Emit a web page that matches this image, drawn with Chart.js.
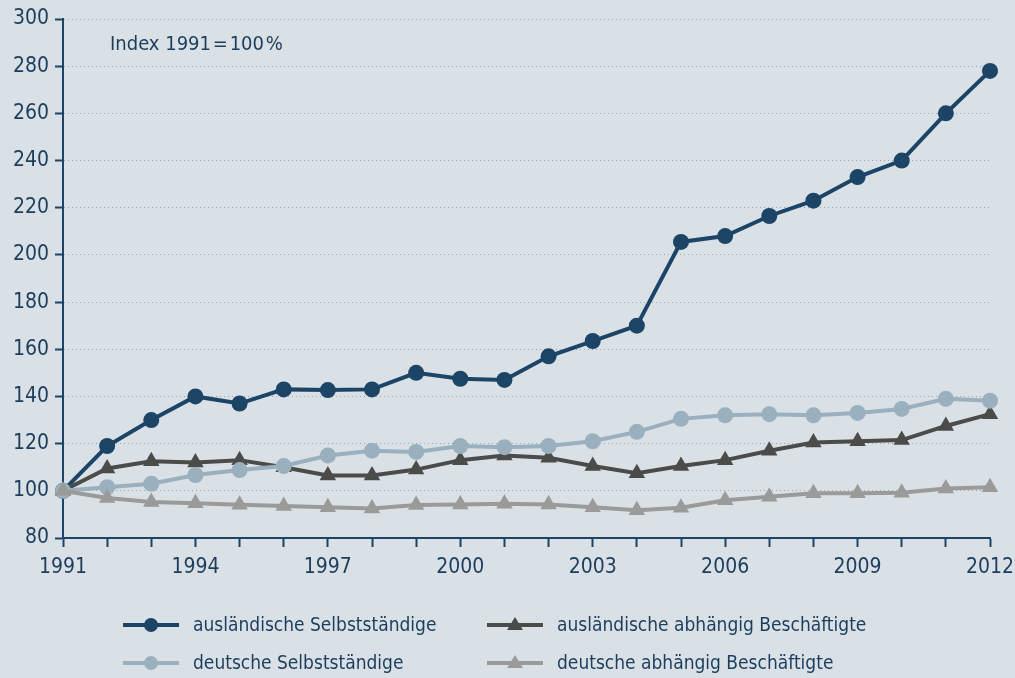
<!DOCTYPE html>
<html><head><meta charset="utf-8">
<script src="https://cdn.jsdelivr.net/npm/chart.js@4"></script>
<style>
html,body{margin:0;padding:0;background:#d9e0e6;}
#wrap{position:relative;width:1015px;height:678px;overflow:hidden;}
canvas{position:absolute;left:0;top:0;}
.t{position:absolute;font-family:'DejaVu Sans Condensed','Liberation Sans Narrow',sans-serif;color:#1c3d5c;white-space:nowrap;}
.lg{position:absolute;height:20px;}
</style></head><body>
<div id="wrap">
<canvas id="c" width="1015" height="678"></canvas>
<div class="t" style="left:110px;top:31px;font-size:20px;">Index 1991&#8202;=&#8202;100&#8202;%</div>
<div id="legend"></div>
</div>
<script>
const years = [1991,1992,1993,1994,1995,1996,1997,1998,1999,2000,2001,2002,2003,2004,2005,2006,2007,2008,2009,2010,2011,2012];
const auslSelbst = [100,119,130,140,137,143,142.7,143,150,147.5,147,157,163.5,170,205.5,208,216.5,223,233,240,260,278];
const auslAbh = [100,109.5,112.5,112,113,110,106.5,106.5,109,113,115,114,110.5,107.5,110.5,113,117,120.5,121,121.5,127.5,132.5];
const dtSelbst = [100,101.5,103,106.7,108.8,110.5,115,117,116.5,119,118.5,119,121,125,130.5,132,132.5,132,133,134.7,139,138.2];
const dtAbh = [100,97,95.3,94.7,94.1,93.6,93,92.5,94,94.2,94.5,94.2,93,91.8,92.8,96,97.5,99,99,99.2,101,101.5];
const yTicks = [80,100,120,140,160,180,200,220,240,260,280,300];
const seriesNames = ['ausländische Selbstständige','ausländische abhängig Beschäftigte','deutsche Selbstständige','deutsche abhängig Beschäftigte'];

const NAVY='#1b4466', DGREY='#4b4b49', LBLUE='#9ab0bf', GREY='#9a9b99', TXT='#1c3d5c';
const FONT="'DejaVu Sans Condensed','Liberation Sans Narrow',sans-serif";
const styles=[
 {c:NAVY,p:'circle',r:8,order:3},
 {c:DGREY,p:'triangle',r:9.5,order:2},
 {c:LBLUE,p:'circle',r:8,order:1},
 {c:GREY,p:'triangle',r:9.5,order:0}
];
const values=[auslSelbst,auslAbh,dtSelbst,dtAbh];

const datasets=values.map((v,i)=>({
  label:seriesNames[i], data:v,
  borderColor:styles[i].c, backgroundColor:styles[i].c,
  pointBackgroundColor:styles[i].c, pointBorderColor:styles[i].c,
  pointStyle:styles[i].p, pointRadius:styles[i].r, pointBorderWidth:0,
  borderWidth:4, tension:0, order:styles[i].order
}));

new Chart(document.getElementById('c'),{
  type:'line',
  data:{labels:years.map(String),datasets},
  options:{
    responsive:false, animation:false, devicePixelRatio:1,
    layout:{padding:{left:0,top:19,right:0,bottom:100}},
    plugins:{legend:{display:false},tooltip:{enabled:false}},
    scales:{
      x:{
        offset:false,
        grid:{drawOnChartArea:false,drawTicks:true,tickLength:9,tickColor:NAVY,tickWidth:2},
        border:{display:true,color:NAVY,width:2},
        ticks:{autoSkip:false,maxRotation:0,color:TXT,font:{family:FONT,size:21},padding:8,
          callback:function(v,i){const y=years[i];return (y-1991)%3===0?String(y):'';}},
        afterFit:function(s){s.height=40;s.paddingRight=25;}
      },
      y:{
        min:80,max:300,
        afterBuildTicks:function(s){s.ticks=yTicks.map(v=>({value:v}));},
        grid:{color:'#9aa3aa',lineWidth:1,drawTicks:true,tickLength:8,tickColor:NAVY,tickWidth:2},
        border:{display:true,color:NAVY,width:2,dash:[1,3]},
        ticks:{color:TXT,font:{family:FONT,size:21},padding:6},
        afterFit:function(s){s.width=63;}
      }
    }
  }
});

// HTML legend
const lg=document.getElementById('legend');
const pos=[[123,625],[487,625],[123,663],[487,663]];
values.forEach((v,i)=>{
  const [x,y]=pos[i];
  const cv=document.createElement('canvas');
  cv.width=58;cv.height=20;cv.className='lg';
  cv.style.left=x+'px';cv.style.top=(y-10)+'px';
  const g=cv.getContext('2d');
  g.strokeStyle=styles[i].c;g.fillStyle=styles[i].c;g.lineWidth=4;
  g.beginPath();g.moveTo(0,10);g.lineTo(56,10);g.stroke();
  g.beginPath();
  if(styles[i].p==='circle'){g.arc(28,10,7,0,Math.PI*2);}
  else{g.moveTo(28,2);g.lineTo(36,15);g.lineTo(20,15);g.closePath();}
  g.fill();
  lg.appendChild(cv);
  const t=document.createElement('div');
  t.className='t';t.textContent=seriesNames[i];
  t.style.left=(x+70)+'px';t.style.top=(y-12)+'px';t.style.fontSize='19px';
  lg.appendChild(t);
});
</script>
</body></html>
